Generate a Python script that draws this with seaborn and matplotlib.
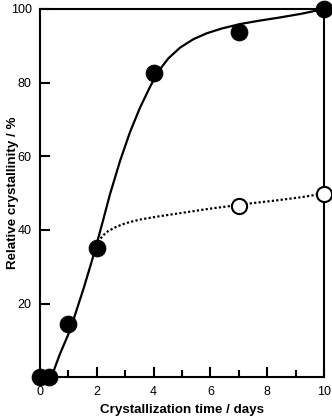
import matplotlib
matplotlib.use("Agg")
import matplotlib.pyplot as plt
import seaborn as sns
from matplotlib.ticker import MultipleLocator

# measured points
days_filled = [0, 0.3, 1, 2, 4, 7, 10]
cryst_filled = [0, 0, 14.4, 35.1, 82.6, 93.8, 100]
days_open = [7, 10]
cryst_open = [46.4, 49.9]

# smooth guide curves
solid_x = [0.3, 0.4, 0.47, 0.58, 0.7, 0.85, 1.06, 1.29, 1.53, 1.76, 1.91, 2.09, 2.21,
           2.46, 2.82, 3.17, 3.52, 3.87, 4.05, 4.29, 4.52, 4.93, 5.4, 5.87, 6.4, 7.04,
           7.7, 8.45, 9.2, 10.0]
solid_y = [0.0, 0.6, 1.5, 3.8, 6.3, 9.0, 12.8, 18.3, 24.0, 29.9, 33.8, 38.9, 42.3,
           49.6, 58.8, 66.6, 73.2, 78.8, 81.4, 84.3, 86.6, 89.5, 91.8, 93.4, 94.7, 95.9,
           96.8, 97.7, 98.7, 100.0]
dot_x = [2.0, 2.1, 2.2, 2.4, 2.7, 3.0, 3.5, 4.1, 4.7, 5.3, 6.0, 6.7, 7.5, 8.3, 9.2, 10.0]
dot_y = [35.5, 37.2, 38.4, 39.7, 40.9, 41.8, 42.8, 43.6, 44.3, 45.0, 45.8, 46.5, 47.3,
         48.0, 48.9, 49.9]

sns.set_style("ticks")
plt.rcParams['font.family'] = ['Liberation Sans', 'DejaVu Sans']
for k in ['text.color', 'axes.labelcolor', 'xtick.color', 'ytick.color', 'axes.edgecolor']:
    plt.rcParams[k] = 'black'

fig = plt.figure(figsize=(3.32, 4.2), dpi=100)
ax = fig.add_axes([0.1205, 0.1017, 0.8555, 0.8769])

sns.lineplot(x=solid_x, y=solid_y, sort=False, color='black', linewidth=1.6, ax=ax)
sns.lineplot(x=dot_x, y=dot_y, sort=False, color='black', linewidth=1.6,
             linestyle=(0, (1, 1)), ax=ax)
sns.scatterplot(x=days_filled, y=cryst_filled, s=150, color='black',
                edgecolor='black', linewidth=0.5, clip_on=False, zorder=5, ax=ax)
sns.scatterplot(x=days_open, y=cryst_open, s=120, color='white',
                edgecolor='black', linewidth=1.5, clip_on=False, zorder=5, ax=ax)

ax.set_xlim(0, 10)
ax.set_ylim(0, 100)
ax.set_xticks([0, 2, 4, 6, 8, 10])
ax.xaxis.set_minor_locator(MultipleLocator(1))
ax.set_yticks([20, 40, 60, 80, 100])
ax.tick_params(axis='both', which='major', direction='in', length=7, width=1.5,
               labelsize=9, pad=6, right=False, top=False)
ax.tick_params(axis='x', which='minor', direction='in', length=5, width=1.5, top=False)
for s in ax.spines.values():
    s.set_linewidth(1.5)

ax.set_xlabel('Crystallization time / days', fontsize=9.6, fontweight='bold')
ax.set_ylabel('Relative crystallinity / %', fontsize=9.6, fontweight='bold')
ax.xaxis.set_label_coords(0.5, -0.072)
ax.yaxis.set_label_coords(-0.074, 0.5)

fig.savefig('out.png', dpi=100)
